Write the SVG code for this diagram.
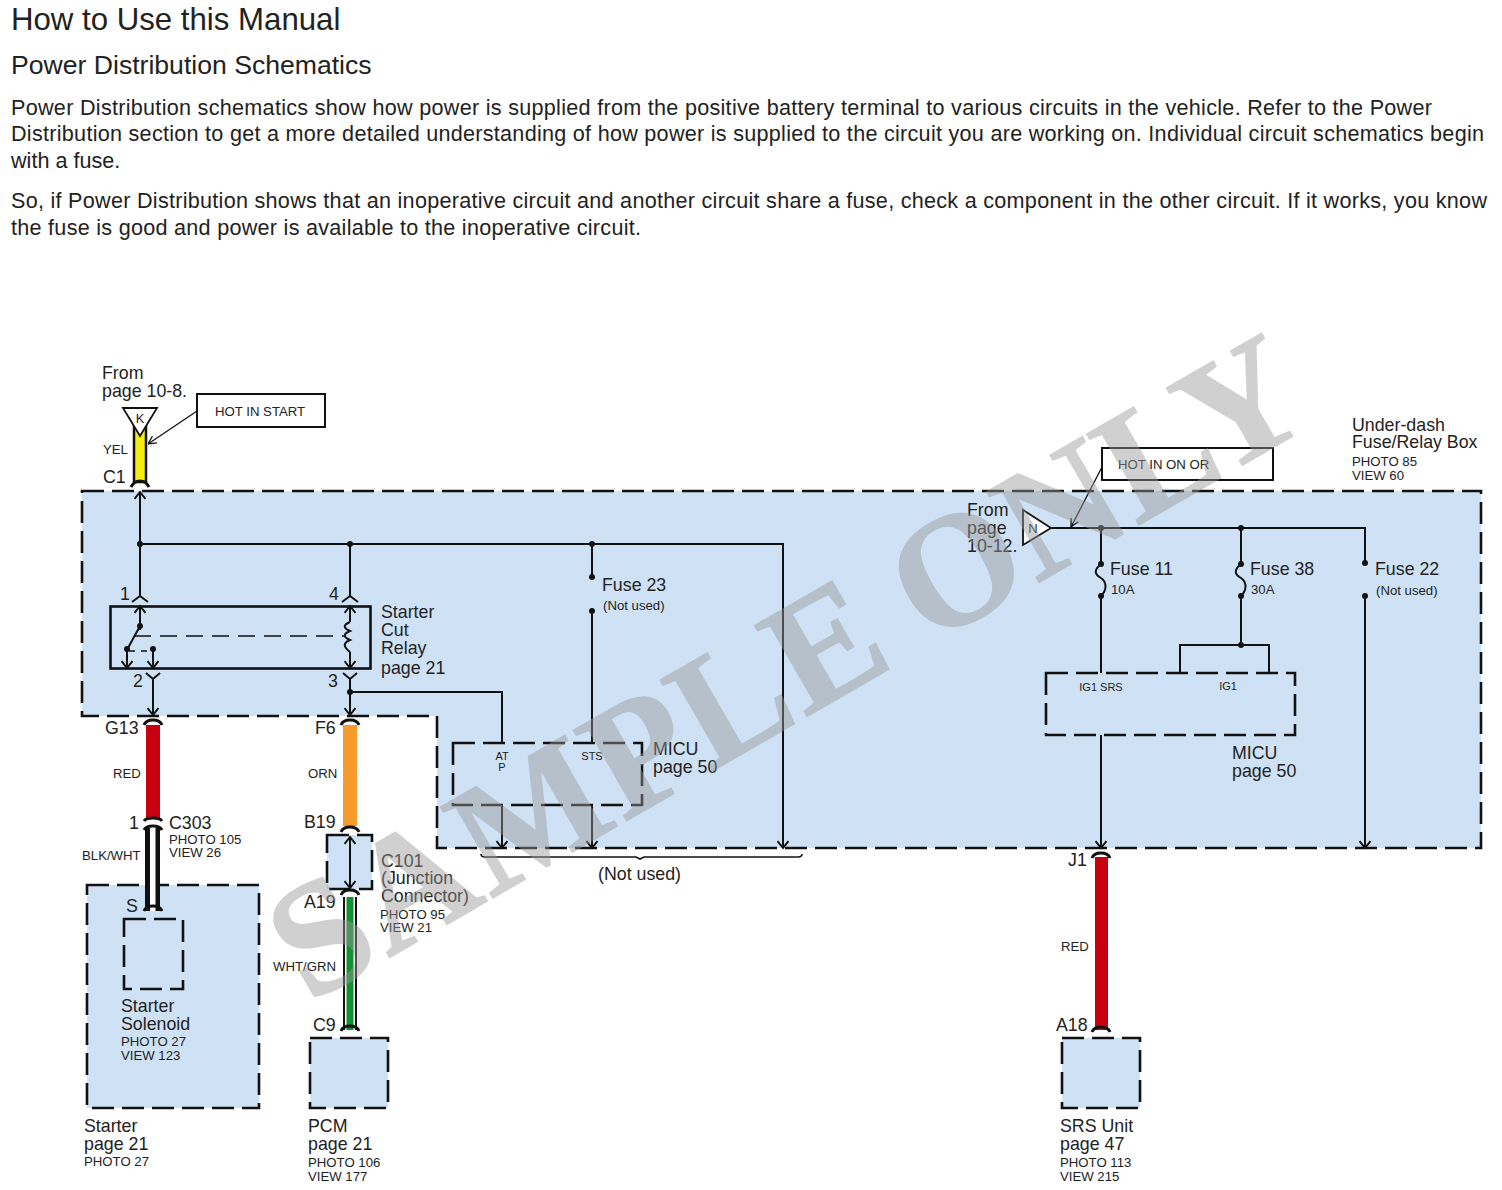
<svg xmlns="http://www.w3.org/2000/svg" width="1502" height="1190" viewBox="0 0 1502 1190">
<style>
text{font-family:"Liberation Sans",Arial,sans-serif;fill:#222}
.h1{font-size:31.200px}.h2{font-size:26.600px}.p{font-size:21.600px}
.l{font-size:17.800px}.s{font-size:13.200px}.t{font-size:11px}.m{font-size:13px}
.box{fill:#cfe2f5;stroke:#111;stroke-width:2.600;stroke-dasharray:22 8}
.w{fill:none;stroke:#111;stroke-width:2}
.solid{fill:#fff;stroke:#111;stroke-width:2}
.conn{fill:none;stroke:#111;stroke-width:3}
</style>
<defs>
<marker id="a" viewBox="0 0 12 12" refX="10" refY="6" markerWidth="12" markerHeight="12" markerUnits="userSpaceOnUse" orient="auto-start-reverse"><path d="M3 0.5L10 6L3 11.500" fill="none" stroke="#111" stroke-width="2"/></marker>
<marker id="thin" viewBox="0 0 10 10" refX="10" refY="5" markerWidth="10" markerHeight="10" markerUnits="userSpaceOnUse" orient="auto"><path d="M2 1L10 5L2 9" fill="none" stroke="#111" stroke-width="1.300"/></marker>
</defs>
<rect width="1502" height="1190" fill="#fff"/>
<g id="heading">
<text class="h1" x="11" y="30">How to Use this Manual</text>
<text class="h2" x="11" y="74">Power Distribution Schematics</text>
<text class="p" x="11" y="115" textLength="1421">Power Distribution schematics show how power is supplied from the positive battery terminal to various circuits in the vehicle. Refer to the Power</text>
<text class="p" x="11" y="141" textLength="1473">Distribution section to get a more detailed understanding of how power is supplied to the circuit you are working on. Individual circuit schematics begin</text>
<text class="p" x="11" y="168">with a fuse.</text>
<text class="p" x="11" y="208" textLength="1476">So, if Power Distribution shows that an inoperative circuit and another circuit share a fuse, check a component in the other circuit. If it works, you know</text>
<text class="p" x="11" y="235" textLength="630">the fuse is good and power is available to the inoperative circuit.</text>
</g>
<g id="fuse-relay-box">
<path class="box" d="M82 491H1481V848H437V716H82Z"/>
<text class="l" x="1352" y="431">Under-dash</text><text class="l" x="1352" y="448">Fuse/Relay Box</text>
<text class="s" x="1352" y="466">PHOTO 85</text><text class="s" x="1352" y="480">VIEW 60</text>
</g>
<g id="starter"><rect class="box" x="87" y="885" width="172" height="223"/>
<text class="l" x="84" y="1132">Starter</text><text class="l" x="84" y="1150">page 21</text><text class="s" x="84" y="1166">PHOTO 27</text></g>
<g id="solenoid"><rect class="box" x="124" y="919" width="59" height="70"/>
<text class="l" x="121" y="1012">Starter</text><text class="l" x="121" y="1030">Solenoid</text><text class="s" x="121" y="1046">PHOTO 27</text><text class="s" x="121" y="1060">VIEW 123</text></g>
<g id="c101"><rect class="box" x="327" y="835" width="45" height="54"/>
<text class="l" x="381" y="867">C101</text><text class="l" x="381" y="884">(Junction</text><text class="l" x="381" y="902">Connector)</text>
<text class="s" x="380" y="919">PHOTO 95</text><text class="s" x="380" y="932">VIEW 21</text></g>
<g id="pcm"><rect class="box" x="310" y="1038" width="78" height="70"/>
<text class="l" x="308" y="1132">PCM</text><text class="l" x="308" y="1150">page 21</text><text class="s" x="308" y="1167">PHOTO 106</text><text class="s" x="308" y="1181">VIEW 177</text></g>
<g id="srs"><rect class="box" x="1062" y="1038" width="78" height="70"/>
<text class="l" x="1060" y="1132">SRS Unit</text><text class="l" x="1060" y="1150">page 47</text><text class="s" x="1060" y="1167">PHOTO 113</text><text class="s" x="1060" y="1181">VIEW 215</text></g>
<g id="micu-left"><rect class="box" x="453" y="743" width="189" height="62"/>
<text class="t" x="502" y="760" text-anchor="middle">AT</text><text class="t" x="502" y="771" text-anchor="middle">P</text><text class="t" x="592" y="760" text-anchor="middle">STS</text>
<text class="l" x="653" y="755">MICU</text><text class="l" x="653" y="773">page 50</text></g>
<g id="micu-right"><rect class="box" x="1046" y="673" width="249" height="62"/>
<text class="t" x="1101" y="691" text-anchor="middle">IG1 SRS</text><text class="t" x="1228" y="690" text-anchor="middle">IG1</text>
<text class="l" x="1232" y="759">MICU</text><text class="l" x="1232" y="777">page 50</text></g>
<g id="relay"><rect x="110.500" y="606.500" width="260" height="62" fill="none" stroke="#111" stroke-width="2.600"/>
<text class="l" x="381" y="618">Starter</text><text class="l" x="381" y="636">Cut</text><text class="l" x="381" y="654">Relay</text><text class="l" x="381" y="674">page 21</text>
<text class="l" x="120" y="600">1</text><text class="l" x="329" y="600">4</text><text class="l" x="133" y="687">2</text><text class="l" x="328" y="687">3</text></g>
<g id="hot-start"><rect class="solid" x="197" y="394" width="128" height="33"/><text class="s" x="215" y="416">HOT IN START</text></g>
<g id="hot-on"><rect class="solid" x="1102" y="448" width="171" height="32"/><text class="s" x="1118" y="469">HOT IN ON OR</text></g>
<g id="wire-labels">
<text class="l" x="102" y="379">From</text><text class="l" x="102" y="397">page 10-8.</text>
<text class="s" x="103" y="454">YEL</text><text class="l" x="103" y="483">C1</text>
<text class="l" x="105" y="734">G13</text><text class="l" x="315" y="734">F6</text>
<text class="s" x="113" y="778">RED</text><text class="s" x="308" y="778">ORN</text>
<text class="l" x="129" y="829">1</text><text class="l" x="169" y="829">C303</text>
<text class="s" x="169" y="844">PHOTO 105</text><text class="s" x="169" y="857">VIEW 26</text>
<text class="s" x="82" y="860">BLK/WHT</text><text class="l" x="126" y="912">S</text>
<text class="l" x="304" y="828">B19</text><text class="l" x="304" y="908">A19</text>
<text class="s" x="273" y="971">WHT/GRN</text><text class="l" x="313" y="1031">C9</text>
<text class="l" x="1068" y="866">J1</text><text class="s" x="1061" y="951">RED</text><text class="l" x="1056" y="1031">A18</text>
<text class="l" x="598" y="880">(Not used)</text>
<text class="l" x="967" y="516">From</text><text class="l" x="967" y="534">page</text><text class="l" x="967" y="552">10-12.</text>
<text class="l" x="602" y="591">Fuse 23</text><text class="s" x="603" y="610">(Not used)</text>
<text class="l" x="1110" y="575">Fuse 11</text><text class="s" x="1111" y="594">10A</text>
<text class="l" x="1250" y="575">Fuse 38</text><text class="s" x="1251" y="594">30A</text>
<text class="l" x="1375" y="575">Fuse 22</text><text class="s" x="1376" y="595">(Not used)</text>
</g>
<g id="connectors">
<path d="M134 425H146V482H134Z" fill="#f5ec10" stroke="#111" stroke-width="2.500"/>
<path d="M123 408H157L140 436Z" fill="#fff" stroke="#111" stroke-width="1.800"/><text class="m" x="140" y="423" text-anchor="middle">K</text>
<path d="M146 725H160V818H146Z" fill="#c8000f"/>
<path d="M343 725H357V826H343Z" fill="#f79a2c"/>
<path d="M145 828H160V911H145Z" fill="#111"/><path d="M150 828H155.500V911H150Z" fill="#fff"/>
<path d="M343 897H357V1030H343Z" fill="#111"/><path d="M345 897H355V1030H345Z" fill="#fff"/><path d="M346.500 897H353.500V1030H346.500Z" fill="#11922f"/>
<path d="M1095 857H1108V1030H1095Z" fill="#c8000f"/>
<g class="conn">
<path d="M131 487Q134 481 140 481Q146 481 149 487"/>
<path d="M144 725Q146 720 153 720Q160 720 162 725"/>
<path d="M341 725Q343 720 350 720Q357 720 359 725"/>
<path d="M144 821Q146 818 153 818Q160 818 162 821"/>
<path d="M144 830Q146 826 153 826Q160 826 162 830"/>
<path d="M341 832Q343 827 350 827Q357 827 359 832"/>
<path d="M341 895Q343 890 350 890Q357 890 359 895"/>
<path d="M144 911Q146 906 153 906Q160 906 162 911"/>
<path d="M341 1031Q343 1026 350 1026Q357 1026 359 1031"/>
<path d="M1092 858Q1094 853 1101 853Q1108 853 1110 858"/>
<path d="M1092 1032Q1094 1027 1101 1027Q1108 1027 1110 1032"/>
</g>
<path class="w" d="M140 596V492" marker-end="url(#a)"/>
<path class="w" d="M140 544H783V848" marker-end="url(#a)"/>
<path class="w" d="M350 544V596"/>
<path class="w" d="M132 602L140 596L148 602M342 602L350 596L358 602"/>
<path class="w" d="M140 630V606" marker-end="url(#a)"/>
<path class="w" d="M350 622V606" marker-end="url(#a)"/>
<path class="w" d="M350 652V668" marker-end="url(#a)"/>
<path class="w" d="M350 622C343 625 343 628 350 631C343 634 343 637 350 640C343 643 343 646 350 652"/>
<path class="w" d="M140 626L128 648"/>
<path class="w" d="M127 648V668" marker-end="url(#a)"/>
<path class="w" d="M153 649V668" marker-end="url(#a)"/>
<path d="M134 636H344" fill="none" stroke="#111" stroke-width="1.300" stroke-dasharray="17 9"/>
<path d="M129 651H152" fill="none" stroke="#111" stroke-width="1.300" stroke-dasharray="6 6"/>
<path class="w" d="M146 673L153 679L160 673M343 673L350 679L357 673"/>
<path class="w" d="M153 679V715" marker-end="url(#a)"/>
<path class="w" d="M350 679V715" marker-end="url(#a)"/>
<path class="w" d="M350 692H502V743"/>
<path class="w" d="M592 544V577M592 610V743"/>
<path class="w" d="M502 805V848" marker-end="url(#a)"/>
<path class="w" d="M592 805V848" marker-end="url(#a)"/>
<path class="w" d="M350 837V888" marker-start="url(#a)" marker-end="url(#a)"/>
<path d="M197 411L148 444" fill="none" stroke="#111" stroke-width="1.300" marker-end="url(#thin)"/>
<path d="M1102 467L1071 527" fill="none" stroke="#111" stroke-width="1.300" marker-end="url(#thin)"/>
<path d="M1023 510L1051 528L1023 545Z" fill="#fff" stroke="#111" stroke-width="1.800"/><text class="m" x="1033" y="533" text-anchor="middle">N</text>
<path class="w" d="M1051 528H1365V563"/>
<path class="w" d="M1101 528V564M1241 528V564"/>
<path class="w" d="M1101 564C1094 570 1094 574 1101 578C1107 582 1107 590 1101 596M1241 564C1234 570 1234 574 1241 578C1247 582 1247 590 1241 596"/>
<path class="w" d="M1101 596V673M1241 596V645"/>
<path class="w" d="M1180 673V645H1269V673"/>
<path class="w" d="M1101 735V848" marker-end="url(#a)"/>
<path class="w" d="M1365 596V848" marker-end="url(#a)"/>
<path d="M481 854Q481 857 485 857H636L640 859L644 857H798Q802 857 802 854" fill="none" stroke="#111" stroke-width="1.600"/>
<g fill="#111">
<circle cx="140" cy="544" r="3"/><circle cx="350" cy="544" r="3"/><circle cx="592" cy="544" r="3"/><circle cx="592" cy="577" r="3"/><circle cx="592" cy="611" r="3"/>
<circle cx="140" cy="626" r="3"/><circle cx="127" cy="649" r="3"/><circle cx="153" cy="649" r="3"/><circle cx="350" cy="692" r="3"/>
<circle cx="1101" cy="528" r="3"/><circle cx="1241" cy="528" r="3"/><circle cx="1101" cy="564" r="3"/><circle cx="1241" cy="564" r="3"/><circle cx="1101" cy="596" r="3"/><circle cx="1241" cy="596" r="3"/><circle cx="1365" cy="563" r="3"/><circle cx="1365" cy="596" r="3"/><circle cx="1241" cy="645" r="3"/>
</g>
</g>
<text id="watermark" transform="translate(309 1004) rotate(-30)" style="font-family:'Liberation Serif',serif;font-weight:bold;font-size:160px;fill:#999;stroke:#999;stroke-width:1.500;opacity:.45"><tspan letter-spacing="2.500">SAMPLE</tspan><tspan dx="-6"> ONLY</tspan></text>
</svg>
